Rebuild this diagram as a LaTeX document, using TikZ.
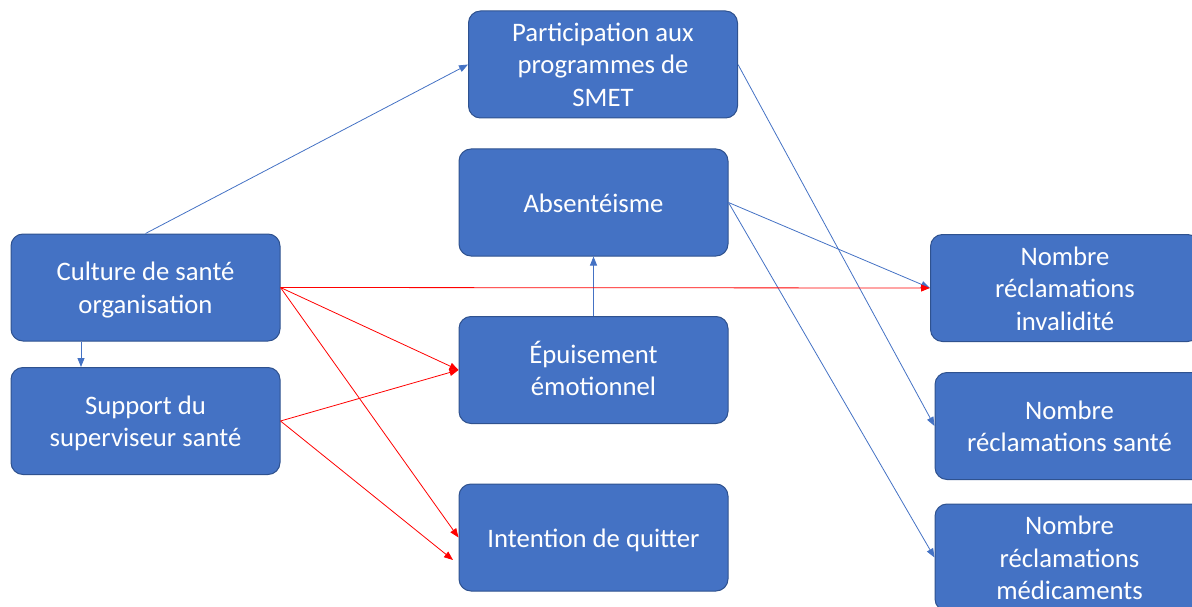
\documentclass[tikz,border=0pt]{standalone}
\usepackage{fontspec}
\setmainfont{Carlito}
\usetikzlibrary{arrows.meta}
\definecolor{boxfill}{HTML}{4472C4}
\definecolor{boxline}{HTML}{2F528F}
\definecolor{arrblue}{HTML}{4472C4}
\definecolor{arrred}{HTML}{FF0000}
\newcommand{\boxlbl}[1]{\raisebox{-3pt}[\height][\depth]{\begin{tabular}{@{}c@{}}#1\end{tabular}}}
\begin{document}
\begin{tikzpicture}[x=1pt,y=-1pt,
  card/.style={draw=boxline, line width=1pt, fill=boxfill, rounded corners=12pt,
    minimum width=269pt, minimum height=107pt, inner sep=0pt,
    text=white, font=\fontsize{26.7}{32.5}\selectfont},
  bluearr/.style={draw=arrblue, line width=0.8pt, -{Triangle[length=9pt,width=7pt]}},
  redarr/.style={draw=arrred, line width=0.8pt, -{Triangle[length=9pt,width=7pt]}}]
\useasboundingbox (0,0) rectangle (1192,607);
\node[card] (culture) at (145.5,287.5) {\boxlbl{Culture de santé\\organisation}};
\node[card] (support) at (145.5,421) {\boxlbl{Support du\\superviseur santé}};
\node[card] (particip) at (603,64.5) {\boxlbl{Participation aux\\programmes de\\SMET}};
\node[card] (absent) at (593.5,202.5) {\boxlbl{Absentéisme}};
\node[card] (epuis) at (593.5,370) {\boxlbl{Épuisement\\émotionnel}};
\node[card] (intent) at (593.5,537.5) {\boxlbl{Intention de quitter}};
\node[card] (invalid) at (1065,288) {\boxlbl{Nombre\\réclamations\\invalidité}};
\node[card] (sante) at (1069.5,426) {\boxlbl{Nombre\\réclamations santé}};
\node[card] (medic) at (1069.5,557.5) {\boxlbl{Nombre\\réclamations\\médicaments}};
\coordinate (intentin) at (453,560);
% blue connectors
\draw[bluearr] (culture.north) -- (particip.west);
\draw[bluearr] (culture.south -| 81,0) -- (support.north -| 81,0);
\draw[bluearr] (epuis.north) -- (absent.south);
\draw[bluearr] (particip.east) -- (sante.west);
\draw[bluearr] (absent.east) -- (invalid.west);
\draw[bluearr] (absent.east) -- (medic.west);
% red connectors
\draw[redarr] (culture.east) -- (invalid.west);
\draw[redarr] (culture.east) -- (epuis.west);
\draw[redarr] (culture.east) -- (intent.west);
\draw[redarr] (support.east) -- (epuis.west);
\draw[redarr] (support.east) -- (intentin);
\end{tikzpicture}
\end{document}
